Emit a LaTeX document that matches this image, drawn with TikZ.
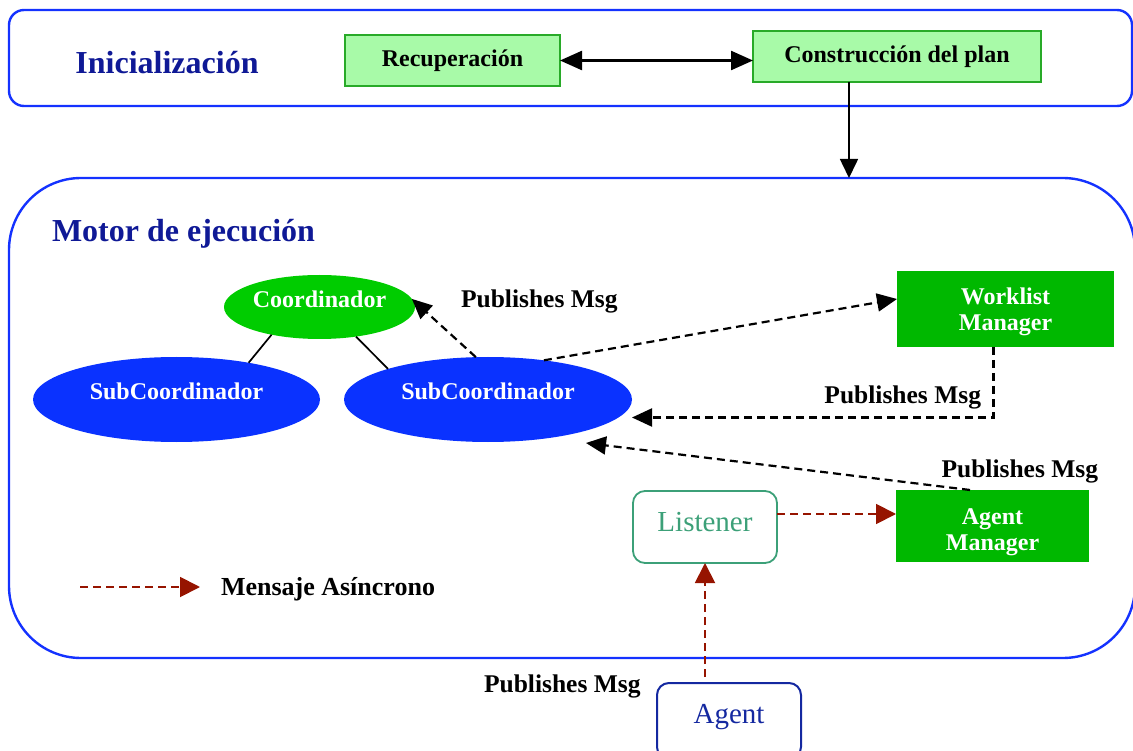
\documentclass[tikz,border=0pt]{standalone}
\usepackage{fontspec}
\setmainfont{Liberation Serif}
\usetikzlibrary{arrows.meta,shapes.geometric}

\definecolor{frameblue}{RGB}{20,50,255}
\definecolor{ellblue}{RGB}{10,50,255}
\definecolor{titlenavy}{RGB}{15,25,150}
\definecolor{paleg}{RGB}{168,250,168}
\definecolor{paleborder}{RGB}{40,170,40}
\definecolor{coordgreen}{RGB}{0,204,0}
\definecolor{mgrgreen}{RGB}{0,184,0}
\definecolor{lsteal}{RGB}{60,160,120}
\definecolor{agnavy}{RGB}{20,40,160}
\definecolor{asyncred}{RGB}{150,20,0}

\begin{document}
\begin{tikzpicture}[x=1pt,y=-1pt,
  every node/.style={inner sep=0pt, outer sep=0pt},
  frame/.style={draw=frameblue, line width=2.4pt},
  title/.style={font=\fontsize{32}{34}\selectfont\bfseries, text=titlenavy},
  phase/.style={draw=paleborder, fill=paleg, line width=1.2pt,
    font=\fontsize{24}{26}\selectfont\bfseries},
  ellnode/.style={ellipse, text=white, font=\fontsize{24}{26}\selectfont\bfseries},
  mgr/.style={fill=mgrgreen, text=white, align=center,
    font=\fontsize{24}{26.5}\selectfont\bfseries},
  plain/.style={rounded corners=12pt, font=\fontsize{29}{31}\selectfont},
  msg/.style={font=\fontsize{25.5}{28}\selectfont\bfseries},
  blk/.style={-{Triangle[length=20pt,width=18pt]}, line width=2.2pt},
  dashblk/.style={blk, dash pattern=on 8pt off 5pt},
  async/.style={-{Triangle[length=20pt,width=20pt]}, color=asyncred,
    line width=1.9pt, dash pattern=on 8pt off 5pt}
]
\clip (0,0) rectangle (1133,751);

% phase containers
\node[frame, rounded corners=15pt, minimum width=1123pt, minimum height=96pt]
  (init) at (570.5,58) {};
\node[frame, rounded corners=72pt, minimum width=1126pt, minimum height=480pt]
  (motor) at (572,418) {};

\node[title, anchor=base] (inittitle) at (167,74) {Inicialización};
\node[title, anchor=base west] (motortitle) at (52,241.5) {Motor de ejecución};

% initialisation steps
\node[phase, minimum width=215pt, minimum height=51pt] (rec) at (452.5,60.5) {Recuperación};
\node[phase, minimum width=288pt, minimum height=51pt] (plan) at (897,56.5) {Construcción del plan};

\draw[{Triangle[length=22pt,width=19pt]}-{Triangle[length=22pt,width=19pt]}, line width=2.4pt]
  (rec.east) -- (rec.east -| plan.west);

\coordinate (drop) at ([xshift=-48pt]plan.south);
\draw[-{Triangle[length=19pt,width=18pt]}, line width=1.6pt] (drop) -- (drop |- motor.north);

% coordinators
\node[ellnode, fill=coordgreen, minimum width=191pt, minimum height=64pt,
  text height=16pt, text depth=14pt] (coord) at (319.5,307) {Coordinador};
\node[ellnode, fill=ellblue, minimum width=287pt, minimum height=85pt,
  text height=16pt, text depth=16pt] (sc1) at (176.5,399.5) {SubCoordinador};
\node[ellnode, fill=ellblue, minimum width=288pt, minimum height=85pt,
  text height=16pt, text depth=16pt] (sc2) at (488,399.5) {SubCoordinador};

\draw[line width=1.7pt] (coord.210) -- (sc1.27);
\draw[line width=1.7pt] (coord.-39) -- (sc2.163);

% managers
\node[mgr, minimum width=217pt, minimum height=76pt] (wl) at (1005.5,309)
  {\rule{0pt}{22pt}Worklist\\Manager};
\node[mgr, minimum width=193pt, minimum height=72pt] (am) at (992.5,526)
  {\rule{0pt}{28.5pt}Agent\\Manager};

\node[plain, draw=lsteal, line width=1.8pt, text=lsteal,
  minimum width=144pt, minimum height=72pt, text height=20pt, text depth=12pt]
  (ls) at (705,527) {Listener};
\node[plain, draw=agnavy, line width=2pt, text=agnavy,
  minimum width=144pt, minimum height=76pt, text height=20pt, text depth=16pt]
  (ag) at (729,721) {Agent};

% published messages
\draw[dashblk] (sc2.106) -- (coord.5);
\draw[dashblk] (sc2.35) -- ([yshift=10pt]wl.west);
\draw[dashblk] ([xshift=-12pt]wl.south) |- ([yshift=-18pt]sc2.east);
\draw[dashblk] ([xshift=-22.5pt]am.north) -- ([xshift=98pt,yshift=-43.5pt]sc2.center);

\node[msg, anchor=base west] (pm1) at (461,308) {Publishes Msg};
\node[msg, anchor=base east] (pm2) at (981,403) {Publishes Msg};
\node[msg, anchor=base west] (pm3) at (941.5,477) {Publishes Msg};
\node[msg, anchor=base west] (pm4) at (484,692) {Publishes Msg};

% asynchronous messages
\draw[async] ([yshift=13pt]ls.east) -- ([yshift=12pt]am.west);
\coordinate (agtop) at (ls.south |- ag.north);
\draw[async] ([yshift=6pt]agtop) -- (ls.south);

% legend
\node[msg, anchor=west, font=\fontsize{26}{28}\selectfont\bfseries] (legtxt) at (221,589) {Mensaje Asíncrono};
\coordinate (legstart) at (80,587);
\draw[async] (legstart) -- ([xshift=-21pt,yshift=2pt]legtxt.west);
\end{tikzpicture}
\end{document}
